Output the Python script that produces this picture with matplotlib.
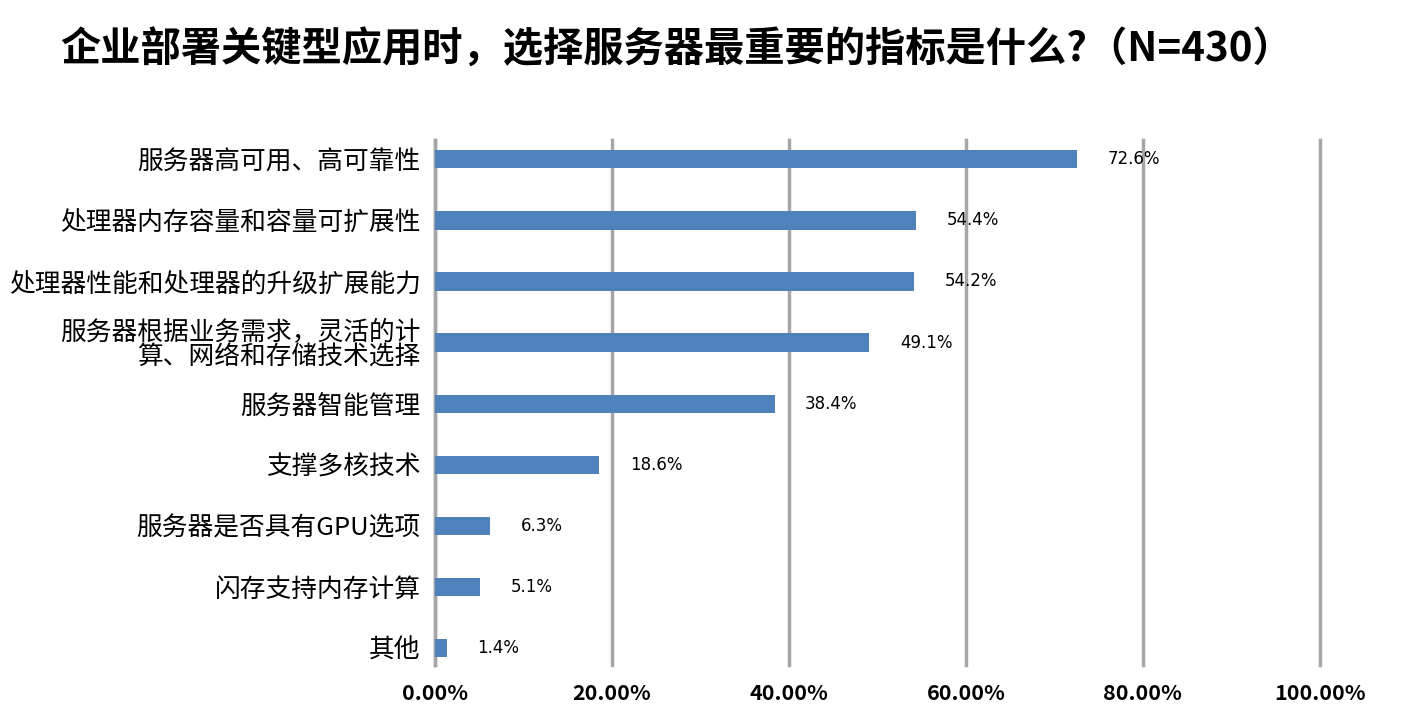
import numpy as np
import matplotlib.pyplot as plt

plt.rcParams['font.family'] = ['Noto Sans CJK SC', 'DejaVu Sans']

title = "企业部署关键型应用时，选择服务器最重要的指标是什么?（N=430）"
categories = [
    "服务器高可用、高可靠性",
    "处理器内存容量和容量可扩展性",
    "处理器性能和处理器的升级扩展能力",
    "服务器根据业务需求，灵活的计\n算、网络和存储技术选择",
    "服务器智能管理",
    "支撑多核技术",
    "服务器是否具有GPU选项",
    "闪存支持内存计算",
    "其他",
]
values = [72.6, 54.4, 54.2, 49.1, 38.4, 18.6, 6.3, 5.1, 1.4]
xticks = [0, 20, 40, 60, 80, 100]

fig = plt.figure(figsize=(14.02, 7.27), dpi=100)
ax = fig.add_axes([0.310, 0.085, 0.6315, 0.722])

y = np.arange(len(categories))
ax.barh(y, values, height=0.3, color='#4f81bd', zorder=3)

# percentage labels to the right of each bar
for yi, v in zip(y, values):
    ax.annotate(f"{v:.1f}%", (v, yi), xytext=(22, 0), textcoords='offset points',
                va='center', ha='left', fontsize=12, family='DejaVu Sans', color='black')

ax.set_xlim(0, 100)
ax.set_ylim(len(categories) - 1 + 0.28, -0.31)
ax.set_xticks(xticks)
ax.set_xticklabels([f"{t:.2f}%" for t in xticks], fontsize=15.5, fontweight='bold')
ax.set_yticks(y)
ax.set_yticklabels(categories, fontsize=18.5, linespacing=0.95)
ax.tick_params(length=0, pad=10)
ax.tick_params(axis='x', pad=13)

ax.grid(axis='x', color='#a6a6a6', linewidth=2.5, zorder=0)
for gl in ax.get_xgridlines():
    gl.set_clip_on(False)
for s in ['top', 'right', 'bottom']:
    ax.spines[s].set_visible(False)
ax.spines['left'].set_color('#a6a6a6')
ax.spines['left'].set_linewidth(2.5)

fig.text(0.043, 0.931, title, fontsize=29, fontweight='bold', va='center', ha='left')

fig.savefig('out.png', dpi=100, facecolor='white')
